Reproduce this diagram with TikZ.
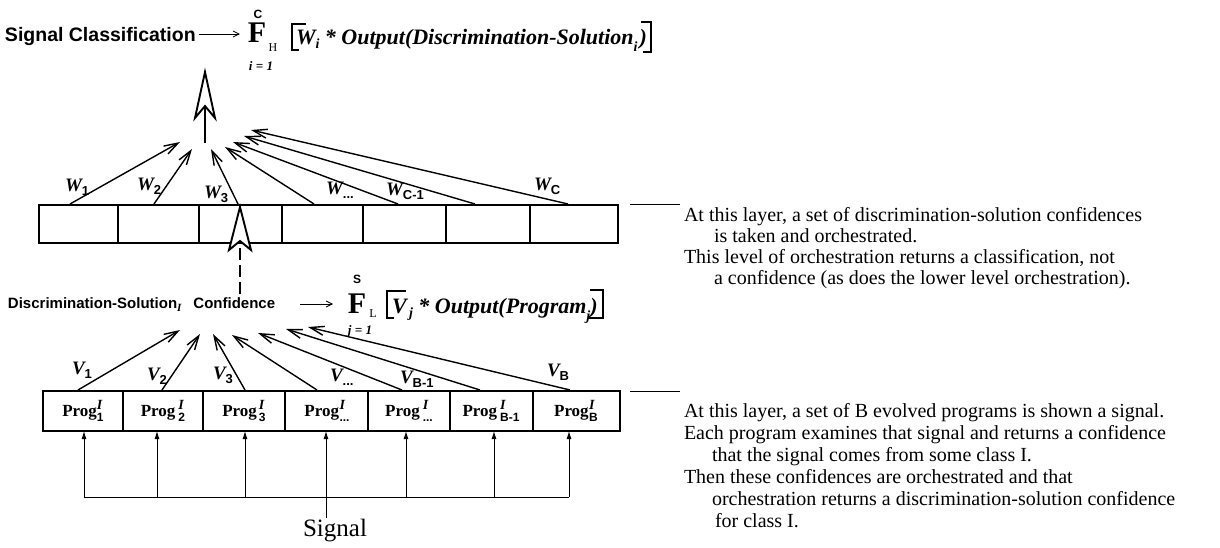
\documentclass[tikz,border=0pt]{standalone}
\usepackage{fontspec}
\usetikzlibrary{arrows.meta,calc}
\newfontfamily\hsans{Liberation Sans}
\newfontfamily\tms{Liberation Serif}
\newcommand\fsz[1]{\fontsize{#1}{#1}\selectfont}
\newcommand\bsans[1]{{\hsans\bfseries #1}}
\newcommand\bit[1]{{\tms\bfseries\itshape #1}}
\newcommand\wlab[2]{\bit{\fsz{19}#1}\raisebox{-4pt}{\bsans{\fsz{13}#2}}}
\newcommand\plab[2]{{\tms\bfseries\fsz{17}Prog}\kern#1\rlap{\raisebox{6.5pt}{\bit{\fsz{14}I}}}\raisebox{-5pt}{\bsans{\fsz{12}#2}}}
\begin{document}
\begin{tikzpicture}[x=1pt,y=-1pt,
  every node/.style={inner sep=0pt,outer sep=0pt},
  layerbox/.style={draw,line width=2.6pt,anchor=north west},
  divider/.style={line width=1.3pt},
  warrow/.style={line width=1.4pt,-{Straight Barb[length=14pt,width=9pt,line width=1.4pt]}},
  sigarrow/.style={line width=0.9pt,-{Latex[length=8pt,width=5pt]}},
  thinarrow/.style={line width=0.8pt,-{Straight Barb[length=6pt,width=6pt,line width=0.8pt]}},
  hollowhead/.style={line width=1.9pt,fill=white,line join=miter},
  tickline/.style={line width=1pt},
  bracket/.style={line width=1.6pt},
  noteline/.style={anchor=base west,font=\tms\fsz{20}},
  wl/.style={anchor=base west},
  bigF/.style={anchor=base,font=\tms\bfseries\fsz{30}},
]
\path[use as bounding box] (0,0) rectangle (1220,548);

% ---------- top formula ----------
\node (sigcls) [anchor=base west,font=\hsans\bfseries\fsz{19.5}] at (5,42) {Signal Classification};
\node (fH) [bigF] at (257,43) {F};
\node (fHc) [font=\hsans\bfseries\fsz{12}] at (258,14) {C};
\node (fHs) [font=\tms\fsz{12}] at (273,48) {H};
\node (fHi) [font=\tms\bfseries\itshape\fsz{13}] at (261,66) {i = 1};
\draw[thinarrow] ($(sigcls.base east)+(3,-8)$) -- ($(fH.base west)+(-8,-9)$);
\node (fHtxt) [anchor=base west,font=\tms\bfseries\itshape\fsz{22}] at (296,45)
  {W\raisebox{-4pt}{\fsz{14}i} * Output(Discrimination-Solution\raisebox{-7pt}{\fsz{14}i}\kern2pt)};
\draw[bracket] ($(fHtxt.base west)+(10,-21)$) -- ($(fHtxt.base west)+(-4,-21)$)
  -- ($(fHtxt.base west)+(-4,5)$) -- ($(fHtxt.base west)+(3,5)$);
\draw[bracket] ($(fHtxt.base east)+(-6,-23)$) -- ($(fHtxt.base east)+(4,-23)$)
  -- ($(fHtxt.base east)+(4,7)$) -- ($(fHtxt.base east)+(-4,7)$);

% ---------- big hollow arrow ----------
\coordinate (hTip) at (205,72);
\coordinate (hNotch) at (205,106);
\coordinate (hBase) at (205,143);
\draw[line width=2.6pt] (hBase) -- (hNotch);
\draw[hollowhead] (hTip) -- ($(hTip)+(10,46)$) -- (hNotch) -- ($(hTip)+(-10,46)$) -- cycle;

% ---------- upper layer ----------
\node (topbox) [layerbox,minimum width=579pt,minimum height=38pt] at (39,205) {};
\foreach \x in {118,199,282,363,446,530} \draw[divider] (\x,205) -- (\x,243);
\foreach \i/\sx/\ex/\ey in {1/70/180/142,2/154/192/149,3/238/211/149,4/314/225/147,5/398/233/142,6/475/244/136,7/568/251/130}{
  \coordinate (ws\i) at (\sx,204);
  \coordinate (we\i) at (\ex,\ey);
  \draw[warrow] (ws\i) -- (we\i);
}
\node (w1) [wl] at (65,192) {\wlab{W}{1}};
\node (w2) [wl] at (137,190) {\wlab{W}{2}};
\node (w3) [wl] at (204,199) {\wlab{W}{3}};
\node (w4) [wl] at (326,194) {\wlab{W}{...}};
\node (w5) [wl] at (386,196) {\wlab{W}{C-1}};
\node (w6) [wl] at (534,190) {\wlab{W}{C}};

% ---------- small hollow arrow and dashed shaft ----------
\coordinate (sTip) at (240,207);
\coordinate (sNotch) at (240,241);
\node (dsc) [anchor=base west,font=\hsans\bfseries\fsz{15}] at (8,308)
  {Discrimination-Solution\raisebox{-3pt}{\tms\itshape\fsz{11}I}\hspace{12pt}Confidence};
\coordinate (sFoot) at (240,294);
\draw[line width=2.4pt,dash pattern=on 12pt off 5pt] (sFoot) -- (sNotch);
\draw[hollowhead] (sTip) -- ($(sTip)+(11,43)$) -- (sNotch) -- ($(sTip)+(-11,43)$) -- cycle;

% ---------- lower formula ----------
\coordinate (la1) at (300,304);
\coordinate (la2) at (333,304);
\draw[thinarrow] (la1) -- (la2);
\node (fL) [bigF] at (357,313) {F};
\node (fLs) [font=\hsans\bfseries\fsz{12}] at (357,279) {S};
\node (fLsub) [font=\tms\fsz{12}] at (373,314) {L};
\node (fLj) [font=\tms\bfseries\itshape\fsz{13}] at (360,331) {j = 1};
\node (fLtxt) [anchor=base west,font=\tms\bfseries\itshape\fsz{22}] at (392,313)
  {V\raisebox{-4pt}{\fsz{14}\,j} * Output(Program\raisebox{-7pt}{\fsz{14}j})};
\draw[bracket] ($(fLtxt.base west)+(14,-22)$) -- ($(fLtxt.base west)+(-5,-22)$)
  -- ($(fLtxt.base west)+(-5,5)$) -- ($(fLtxt.base west)+(2,5)$);
\draw[bracket] ($(fLtxt.base east)+(-8,-23)$) -- ($(fLtxt.base east)+(5,-23)$)
  -- ($(fLtxt.base east)+(5,5)$) -- ($(fLtxt.base east)+(-10,5)$);

% ---------- lower layer ----------
\node (lowbox) [layerbox,minimum width=577pt,minimum height=40pt] at (43,391) {};
\foreach \x in {123,203,285,368,450,533} \draw[divider] (\x,391) -- (\x,431);
\node (p1) at (83,411) {\plab{0pt}{1}};
\node (p2) at (163,411) {\plab{3pt}{2}};
\node (p3) at (244,411) {\plab{2pt}{3}};
\node (p4) at (327,411) {\plab{0.5pt}{...}};
\node (p5) at (409,411) {\plab{3pt}{...}};
\node (p6) at (491,411) {\plab{3pt}{B-1}};
\node (p7) at (576,411) {\plab{0.5pt}{B}};
\foreach \i/\sx/\ex/\ey in {1/78/180/330,2/162/200/334,3/245/213/334,4/317/232/335,5/402/258/333,6/480/286/329,7/570/308/327}{
  \coordinate (vs\i) at (\sx,390);
  \coordinate (ve\i) at (\ex,\ey);
  \draw[warrow] (vs\i) -- (ve\i);
}
\node (v1) [wl] at (72,374) {\wlab{V}{1}};
\node (v2) [wl] at (147,380) {\wlab{V}{2}};
\node (v3) [wl] at (213,379) {\wlab{V}{3}};
\node (v4) [wl] at (330,381) {\wlab{V}{...}};
\node (v5) [wl] at (400,383) {\wlab{V}{B-1}};
\node (v6) [wl] at (547,376) {\wlab{V}{B}};

% ---------- signal distribution ----------
\node (sig) [font=\tms\fsz{25}] at (335,531) {Signal};
\foreach \i/\x in {1/84,2/157,3/245,5/406,6/494,7/569}{
  \coordinate (c\i) at (\x,497);
  \draw[sigarrow] (c\i) -- (c\i |- lowbox.south);
}
\coordinate (c4) at (326,497);
\coordinate (sigtop) at (326,518);
\draw[line width=0.9pt] (c1) -- (c7);
\draw[sigarrow] (sigtop) -- (c4 |- lowbox.south);

% ---------- notes ----------
\node (n1) [noteline] at (684,221) {At this layer, a set of discrimination-solution confidences};
\node (n2) [noteline] at (714,242) {is taken and orchestrated.};
\node (n3) [noteline] at (684,263) {This level of orchestration returns a classification, not};
\node (n4) [noteline] at (714,284) {a confidence (as does the lower level orchestration).};
\draw[tickline] ([xshift=12pt]topbox.north east) -- ([xshift=-4pt]topbox.north east -| n1.west);

\node (m1) [noteline] at (684,417) {At this layer, a set of B evolved programs is shown a signal.};
\node (m2) [noteline] at (684,439) {Each program examines that signal and returns a confidence};
\node (m3) [noteline] at (712,461) {that the signal comes from some class I.};
\node (m4) [noteline] at (684,483) {Then these confidences are orchestrated and that};
\node (m5) [noteline] at (712,505) {orchestration returns a discrimination-solution confidence};
\node (m6) [noteline] at (715,527) {for class I.};
\draw[tickline] ([xshift=10pt]lowbox.north east) -- ([xshift=-4pt]lowbox.north east -| m1.west);
\end{tikzpicture}
\end{document}
